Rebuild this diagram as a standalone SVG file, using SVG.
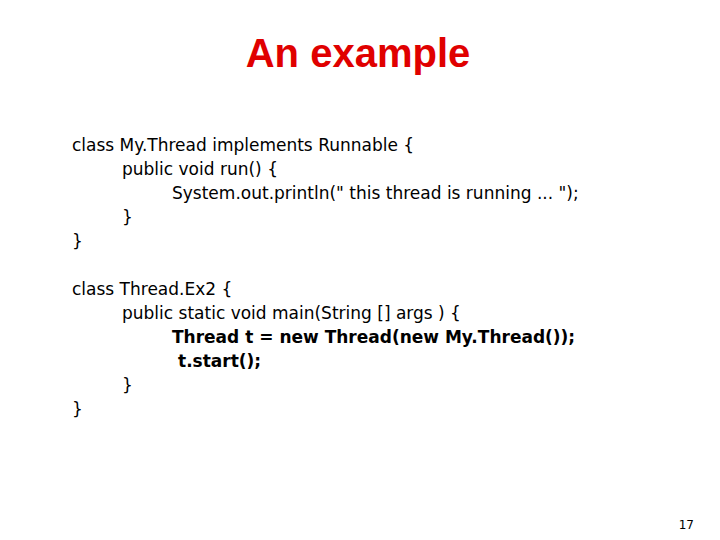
<svg xmlns="http://www.w3.org/2000/svg" width="720" height="540" viewBox="0 0 720 540">
<style>
.t{font-family:"DejaVu Sans",Verdana,sans-serif;font-size:17px;fill:#000}
.b{font-weight:bold}
</style>
<rect width="720" height="540" fill="#fff"/>
<text x="358" y="67" text-anchor="middle" font-family="Liberation Sans,Arial,sans-serif" font-weight="bold" font-size="40" fill="#e00000">An example</text>
<text class="t" x="72" y="151">class My.Thread implements Runnable  {</text>
<text class="t" x="122" y="175">public void run() {</text>
<text class="t" x="172" y="199">System.out.println(" this thread is running ... ");</text>
<text class="t" x="122" y="223">}</text>
<text class="t" x="72" y="247">}</text>
<text class="t" x="72" y="295">class Thread.Ex2 {</text>
<text class="t" x="122" y="319">public static void main(String [] args  ) {</text>
<text class="t b" x="172" y="343">Thread t = new Thread(new My.Thread());</text>
<text class="t b" x="178" y="367">t.start();</text>
<text class="t" x="122" y="391">}</text>
<text class="t" x="72" y="415">}</text>
<text x="694" y="529" text-anchor="end" font-family="DejaVu Sans,sans-serif" font-size="12">17</text>
</svg>
